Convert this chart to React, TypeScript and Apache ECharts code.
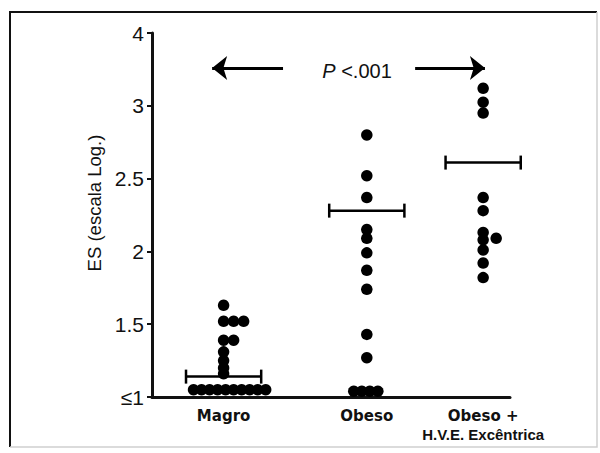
import React, { useEffect, useRef } from "react";
import * as echarts from "echarts";

const categories = ["Magro", "Obeso", "Obeso +\nH.V.E. Excêntrica"];
const yTickLabels = ["≤1", "1.5", "2", "2.5", "3", "4"];

const magroValues = [1.63, 1.52, 1.52, 1.52, 1.39, 1.39, 1.31, 1.25, 1.2, 1.16, 1.05, 1.05, 1.05, 1.05, 1.05, 1.05, 1.05, 1.05, 1.05, 1.05];
const magroSlots = [0, 0, 1, 2, 0, 1, 0, 0, 0, 0, -3, -2.2, -1.4, -0.6, 0.2, 1, 1.8, 2.6, 3.4, 4.2];
const obesoValues = [2.8, 2.52, 2.37, 2.15, 2.09, 1.99, 1.87, 1.74, 1.43, 1.27, 1.04, 1.04, 1.04, 1.04];
const obesoSlots = [0, 0, 0, 0, 0, 0, 0, 0, 0, 0, -1.3, -0.5, 0.3, 1.1];
const hveValues = [3.24, 3.05, 2.95, 2.37, 2.28, 2.13, 2.09, 2.08, 2.01, 1.92, 1.82];
const hveSlots = [0, 0, 0, 0, 0, 0, 1.3, 0, 0, 0, 0];
const meanValues = [1.14, 2.28, 2.61];

// layout (x axis positions of the three groups, axis units)
const columnX = [2, 6, 9.25];
const SLOT = 0.28;
const MEAN_HALF = 1.05;

// y scale of the figure: ≤1,1.5,2,2.5,3 evenly spaced, then 3→4 one step
const toPos = (v: number) => (v <= 3 ? (v - 1) * 2 : 4 + (v - 3));

const groups = [
  { values: magroValues, slots: magroSlots },
  { values: obesoValues, slots: obesoSlots },
  { values: hveValues, slots: hveSlots },
];

export default function App() {
  const ref = useRef<HTMLDivElement>(null);
  useEffect(() => {
    if (!ref.current) return;
    const chart = echarts.init(ref.current, null, { renderer: "svg" });
    const points: number[][] = [];
    groups.forEach((g, gi) => {
      g.values.forEach((v, i) => {
        points.push([columnX[gi] + g.slots[i] * SLOT, toPos(v)]);
      });
    });
    const means = meanValues.map((m, i) => [columnX[i], toPos(m), MEAN_HALF]);
    const arrowY = 4.52;
    chart.setOption({
      animation: false,
      backgroundColor: "#ffffff",
      grid: { left: 152, right: 90, top: 33, bottom: 56, containLabel: false },
      xAxis: {
        type: "value",
        min: 0,
        max: 10,
        axisLine: { show: true, onZero: false, lineStyle: { color: "#111", width: 3 } },
        axisTick: { show: false },
        splitLine: { show: false },
        axisLabel: {
          customValues: columnX,
          margin: 9,
          color: "#111",
          fontFamily: "DejaVu Sans",
          fontWeight: "bold",
          fontSize: 15,
          lineHeight: 19,
          formatter: (v: number) => {
            const i = columnX.findIndex((c) => Math.abs(c - v) < 1e-6);
            if (i < 0) return "";
            const parts = categories[i].split("\n");
            return parts
              .map((p, k) => (k === 0 ? `{first|${p}}` : `{second|${p}}`))
              .join("\n");
          },
          rich: {
            first: { fontFamily: "DejaVu Sans", fontWeight: "bold", fontSize: 15, color: "#111", lineHeight: 19 },
            second: { fontFamily: "Liberation Sans", fontWeight: "bold", fontSize: 15, color: "#111", lineHeight: 19 },
          },
        },
      },
      yAxis: {
        type: "value",
        min: 0,
        max: 5,
        interval: 1,
        name: "ES (escala Log.)",
        nameLocation: "middle",
        nameGap: 48,
        nameTextStyle: {
          color: "#111",
          fontFamily: "Liberation Sans",
          fontSize: 18.5,
          padding: [0, 0, 0, 24],
        },
        axisLine: { show: true, lineStyle: { color: "#111", width: 3 } },
        axisTick: { show: true, length: 5, lineStyle: { color: "#111", width: 2 } },
        splitLine: { show: false },
        axisLabel: {
          color: "#111",
          fontFamily: "Liberation Sans",
          fontSize: 21,
          margin: 8,
          formatter: (v: number) => yTickLabels[Math.round(v)] ?? "",
        },
      },
      graphic: [
        {
          type: "polyline",
          silent: true,
          shape: { points: [[10, 447], [10, 12], [597, 12]] },
          style: { stroke: "#111", lineWidth: 2, fill: "none" },
        },
        {
          type: "polyline",
          silent: true,
          shape: { points: [[10, 447], [597, 447], [597, 12]] },
          style: { stroke: "#cfcfcf", lineWidth: 1.5, fill: "none" },
        },
        {
          type: "text",
          x: 357,
          y: 71,
          silent: true,
          style: {
            text: "{i|P} <.001",
            align: "center",
            verticalAlign: "middle",
            fill: "#111",
            font: "20px 'Liberation Sans'",
            rich: {
              i: { fontStyle: "italic", fontSize: 20, fontFamily: "Liberation Sans", fill: "#111" },
            },
          },
        },
      ],
      series: [
        {
          type: "scatter",
          data: points,
          symbol: "circle",
          symbolSize: 11.5,
          itemStyle: { color: "#000", opacity: 1 },
          silent: true,
          markLine: {
            silent: true,
            animation: false,
            symbolSize: [18, 15],
            label: { show: false },
            lineStyle: { color: "#000", width: 3, type: "solid", opacity: 1 },
            emphasis: { disabled: true },
            data: [
              [
                { coord: [1.68, arrowY], symbol: "arrow" },
                { coord: [3.66, arrowY], symbol: "none" },
              ],
              [
                { coord: [7.35, arrowY], symbol: "none" },
                { coord: [9.3, arrowY], symbol: "arrow" },
              ],
            ],
          },
        },
        {
          type: "custom",
          data: means,
          clip: false,
          silent: true,
          renderItem: (params: any, api: any) => {
            const x = api.value(0);
            const y = api.value(1);
            const hw = api.value(2);
            const a = api.coord([x - hw, y]);
            const b = api.coord([x + hw, y]);
            const st = { stroke: "#000", lineWidth: 2.5 };
            return {
              type: "group",
              children: [
                { type: "line", shape: { x1: a[0], y1: a[1], x2: b[0], y2: b[1] }, style: st },
                { type: "line", shape: { x1: a[0], y1: a[1] - 7, x2: a[0], y2: a[1] + 7 }, style: st },
                { type: "line", shape: { x1: b[0], y1: b[1] - 7, x2: b[0], y2: b[1] + 7 }, style: st },
              ],
            };
          },
        },
      ],
    });
    return () => chart.dispose();
  }, []);
  return (
    <div
      ref={ref}
      style={{ position: "absolute", left: 0, top: 0, width: 600, height: 453, background: "#fff" }}
    />
  );
}
